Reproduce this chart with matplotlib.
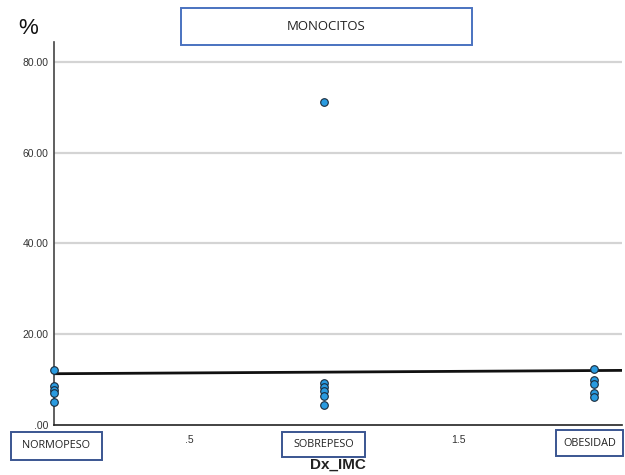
import matplotlib
matplotlib.use("Agg")
import matplotlib.pyplot as plt
from matplotlib.patches import Rectangle
import numpy as np

# Monocyte percentage by BMI diagnosis group (0 = normopeso, 1 = sobrepeso, 2 = obesidad)
normopeso = [12.2, 8.6, 7.8, 7.0, 5.1]
sobrepeso = [71.2, 9.3, 8.4, 7.4, 6.5, 4.3]
obesidad = [12.4, 9.9, 9.1, 7.1, 6.2]
group_codes = [0, 1, 2]
group_names = ["NORMOPESO", "SOBREPESO", "OBESIDAD"]

# Linear fit line (intercept, slope)
fit_coef = [11.3, 0.35]

y_ticks = [0, 20, 40, 60, 80]
y_tick_labels = [".00", "20.00", "40.00", "60.00", "80.00"]
x_ticks = [0.5, 1.5]
x_tick_labels = [".5", "1.5"]

W, H = 625, 475
fig = plt.figure(figsize=(W / 100, H / 100), dpi=100)
ax = fig.add_axes([54 / W, 1 - 425 / H, 568 / W, 383 / H])

ax.set_xlim(0, 2.104)
ax.set_ylim(0, 84.4)

for yv in y_ticks[1:]:
    ax.axhline(yv, color="#d4d4d4", lw=1.6, zorder=1)

groups = [normopeso, sobrepeso, obesidad]
for code, vals in zip(group_codes, groups):
    ax.scatter([code] * len(vals), vals, s=30, facecolor="#2a9be0",
               edgecolor="#1a2a3a", linewidths=0.8, zorder=4, clip_on=False)

xs = np.array(ax.get_xlim())
ax.plot(xs, fit_coef[0] + fit_coef[1] * xs, color="#111111", lw=2.0, zorder=3)

for s in ["top", "right"]:
    ax.spines[s].set_visible(False)
ax.spines["left"].set_color("#444444")
ax.spines["left"].set_linewidth(1.2)
ax.spines["bottom"].set_color("#222222")
ax.spines["bottom"].set_linewidth(1.2)

ax.set_yticks(y_ticks)
ax.set_yticklabels(y_tick_labels, fontsize=7.5, color="#333333", family="Liberation Sans")
ax.set_xticks(x_ticks)
ax.set_xticklabels(x_tick_labels, fontsize=7.5, color="#333333", family="Liberation Sans")
ax.tick_params(axis="both", length=0, pad=4)
ax.tick_params(axis="x", pad=7)

def px_box(x0, y0, x1, y1, text, edge, fs):
    rect = Rectangle((x0 / W, 1 - y1 / H), (x1 - x0) / W, (y1 - y0) / H,
                     transform=fig.transFigure, facecolor="white",
                     edgecolor=edge, lw=1.4, zorder=10)
    fig.add_artist(rect)
    fig.text((x0 + x1) / 2 / W, 1 - (y0 + y1) / 2 / H, text, ha="center",
             va="center", fontsize=fs, family="Open Sans", color="#222222", zorder=11)

px_box(181, 8, 472, 45, "MONOCITOS", "#4a72c0", 9.5)
px_box(11, 432, 102, 460, group_names[0], "#3a5590", 7.8)
px_box(282, 432, 365, 457, group_names[1], "#3a5590", 7.8)
px_box(556, 430, 623, 456, group_names[2], "#3a5590", 7.8)

fig.text(18 / W, 1 - 29 / H, "%", fontsize=16, family="Liberation Sans",
         color="#111111", va="center", ha="left")
fig.text(338 / W, 1 - 465 / H, "Dx_IMC", fontsize=11, fontweight="bold",
         family="Liberation Sans", color="#222222", ha="center", va="center",
         zorder=12)

fig.savefig("out.png", dpi=100)
